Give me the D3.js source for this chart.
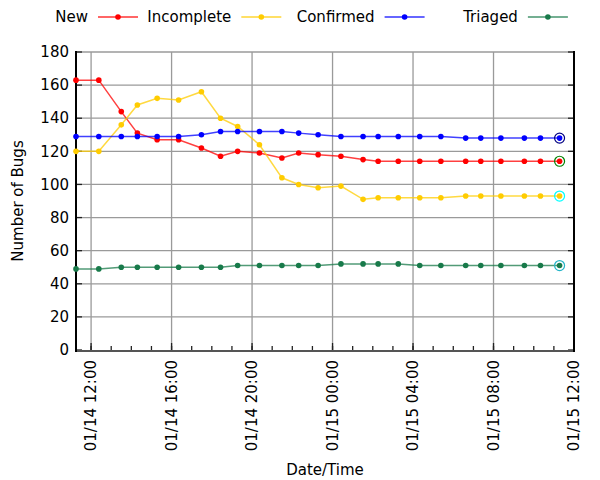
<!DOCTYPE html>
<html>
<head>
<meta charset="utf-8">
<script src="https://cdn.jsdelivr.net/npm/d3@7"></script>
<style>
  body { margin: 0; background: #fff; }
  text { font-family: "DejaVu Sans", sans-serif; fill: #000; }
</style>
</head>
<body>
<div id="chart"></div>
<script>
// sample times (month/day hour:minute)
const times = ['01/14 11:15', '01/14 12:23', '01/14 13:30', '01/14 14:18', '01/14 15:17',
  '01/14 16:21', '01/14 17:29', '01/14 18:26', '01/14 19:17', '01/14 20:22',
  '01/14 21:29', '01/14 22:19', '01/14 23:17', '01/15 00:25', '01/15 01:31',
  '01/15 02:16', '01/15 03:16', '01/15 04:20', '01/15 05:23', '01/15 06:37',
  '01/15 07:22', '01/15 08:22', '01/15 09:32', '01/15 10:20', '01/15 11:17']

const newBugs = [163, 163, 144, 131, 127, 127, 122, 117, 120, 119, 116, 119, 118, 117, 115,
  114, 114, 114, 114, 114, 114, 114, 114, 114, 114]
const incomplete = [120, 120, 136, 148, 152, 151, 156, 140, 135, 124, 104, 100, 98, 99, 91,
  92, 92, 92, 92, 93, 93, 93, 93, 93, 93]
const confirmed = [129, 129, 129, 129, 129, 129, 130, 132, 132, 132, 132, 131, 130, 129, 129,
  129, 129, 129, 129, 128, 128, 128, 128, 128, 128]
const triaged = [49, 49, 50, 50, 50, 50, 50, 50, 51, 51, 51, 51, 51, 52, 52,
  52, 52, 51, 51, 51, 51, 51, 51, 51, 51]

const seriesNames = ['New', 'Incomplete', 'Confirmed', 'Triaged']
const seriesColors = ['#ff0000', '#ffcc00', '#0000ff', '#187a4a']
const ringColors = ['#008000', '#00ffff', '#000080', '#25b5c8']
const yTicks = [0, 20, 40, 60, 80, 100, 120, 140, 160, 180]
const xEnd = '01/15 12:00'

const parse = d3.timeParse('%m/%d %H:%M')
const dates = times.map(parse)
const allSeries = [newBugs, incomplete, confirmed, triaged]

const width = 600
const height = 480
const margin = { top: 52, left: 76, right: 26, bottom: 130 }
const fontSize = 15

const svg = d3.select('#chart')
  .append('svg')
  .attr('width', width)
  .attr('height', height)

const xPositionScale = d3.scaleTime()
  .domain([dates[0], parse(xEnd)])
  .range([margin.left, width - margin.right])

const yPositionScale = d3.scaleLinear()
  .domain([0, 180])
  .range([height - margin.bottom, margin.top])

const x0 = margin.left
const x1 = width - margin.right
const y0 = height - margin.bottom
const y1 = margin.top

const majorTicks = d3.timeHour.every(4).range(dates[0], d3.timeMinute.offset(parse(xEnd), 1))
const minorTicks = d3.timeHour.every(1).range(dates[0], d3.timeMinute.offset(parse(xEnd), 1))

// grid
svg.append('g')
  .selectAll('line')
  .data(yTicks.slice(1))
  .enter()
  .append('line')
  .attr('x1', x0)
  .attr('x2', x1)
  .attr('y1', d => yPositionScale(d))
  .attr('y2', d => yPositionScale(d))
  .attr('stroke', '#9a9a9a')
  .attr('stroke-width', 1.3)

svg.append('g')
  .selectAll('line')
  .data(majorTicks)
  .enter()
  .append('line')
  .attr('x1', d => xPositionScale(d))
  .attr('x2', d => xPositionScale(d))
  .attr('y1', y0)
  .attr('y2', y1)
  .attr('stroke', '#9a9a9a')
  .attr('stroke-width', 1.3)

// ticks
const tickG = svg.append('g').attr('stroke', '#222').attr('stroke-width', 1.3)
yTicks.forEach(t => {
  tickG.append('line')
    .attr('x1', x0).attr('x2', x0 + 6)
    .attr('y1', yPositionScale(t)).attr('y2', yPositionScale(t))
  tickG.append('line')
    .attr('x1', x1).attr('x2', x1 - 6)
    .attr('y1', yPositionScale(t)).attr('y2', yPositionScale(t))
})
minorTicks.forEach(t => {
  tickG.append('line')
    .attr('x1', xPositionScale(t)).attr('x2', xPositionScale(t))
    .attr('y1', y0).attr('y2', y0 - 4)
})
majorTicks.forEach(t => {
  tickG.append('line')
    .attr('x1', xPositionScale(t)).attr('x2', xPositionScale(t))
    .attr('y1', y0).attr('y2', y0 - 7)
})

// frame
svg.append('line')
  .attr('x1', x0).attr('x2', x1).attr('y1', y0 + 1).attr('y2', y0 + 1)
  .attr('stroke', '#555').attr('stroke-width', 2)
svg.append('line')
  .attr('x1', x0).attr('x2', x0).attr('y1', y1 - 1).attr('y2', y0 + 2)
  .attr('stroke', '#000').attr('stroke-width', 2)
svg.append('line')
  .attr('x1', x1).attr('x2', x1).attr('y1', y1 - 1).attr('y2', y0 + 2)
  .attr('stroke', '#000').attr('stroke-width', 2)

// tick labels
svg.append('g')
  .selectAll('text')
  .data(yTicks)
  .enter()
  .append('text')
  .attr('x', x0 - 7)
  .attr('y', d => yPositionScale(d))
  .attr('dy', '0.35em')
  .attr('text-anchor', 'end')
  .attr('font-size', fontSize)
  .text(d => d)

const fmt = d3.timeFormat('%m/%d %H:%M')
svg.append('g')
  .selectAll('text')
  .data(majorTicks)
  .enter()
  .append('text')
  .attr('transform', d => 'translate(' + xPositionScale(d) + ',' + (y0 + 10) + ') rotate(-90)')
  .attr('dy', '0.35em')
  .attr('text-anchor', 'end')
  .attr('font-size', fontSize)
  .text(d => fmt(d))

// axis titles
svg.append('text')
  .attr('transform', 'translate(23,' + ((y0 + y1) / 2) + ') rotate(-90)')
  .attr('text-anchor', 'middle')
  .attr('font-size', fontSize)
  .text('Number of Bugs')

svg.append('text')
  .attr('x', (x0 + x1) / 2)
  .attr('y', 475)
  .attr('text-anchor', 'middle')
  .attr('font-size', fontSize)
  .text('Date/Time')

// lines and points
const line = d3.line()
  .x((d, i) => xPositionScale(dates[i]))
  .y(d => yPositionScale(d))

allSeries.forEach((values, k) => {
  svg.append('path')
    .datum(values)
    .attr('d', line)
    .attr('fill', 'none')
    .attr('stroke', seriesColors[k])
    .attr('stroke-opacity', 0.75)
    .attr('stroke-width', 1.5)

  svg.append('g')
    .selectAll('circle')
    .data(values)
    .enter()
    .append('circle')
    .attr('cx', (d, i) => xPositionScale(dates[i]))
    .attr('cy', d => yPositionScale(d))
    .attr('r', 2.8)
    .attr('fill', seriesColors[k])

  const last = values.length - 1
  svg.append('circle')
    .attr('cx', xPositionScale(dates[last]))
    .attr('cy', yPositionScale(values[last]))
    .attr('r', 5)
    .attr('fill', 'none')
    .attr('stroke', ringColors[k])
    .attr('stroke-width', 1.2)
})

// legend
const legend = svg.append('g')
seriesNames.forEach((name, k) => {
  const tx = 88 + k * 143.3
  legend.append('text')
    .attr('x', tx)
    .attr('y', 17)
    .attr('dy', '0.35em')
    .attr('text-anchor', 'end')
    .attr('font-size', fontSize)
    .text(name)
  legend.append('line')
    .attr('x1', tx + 10).attr('x2', tx + 50)
    .attr('y1', 17).attr('y2', 17)
    .attr('stroke', seriesColors[k])
    .attr('stroke-opacity', 0.6)
    .attr('stroke-width', 2)
  legend.append('circle')
    .attr('cx', tx + 30).attr('cy', 17).attr('r', 2.8)
    .attr('fill', seriesColors[k])
})
</script>
</body>
</html>
